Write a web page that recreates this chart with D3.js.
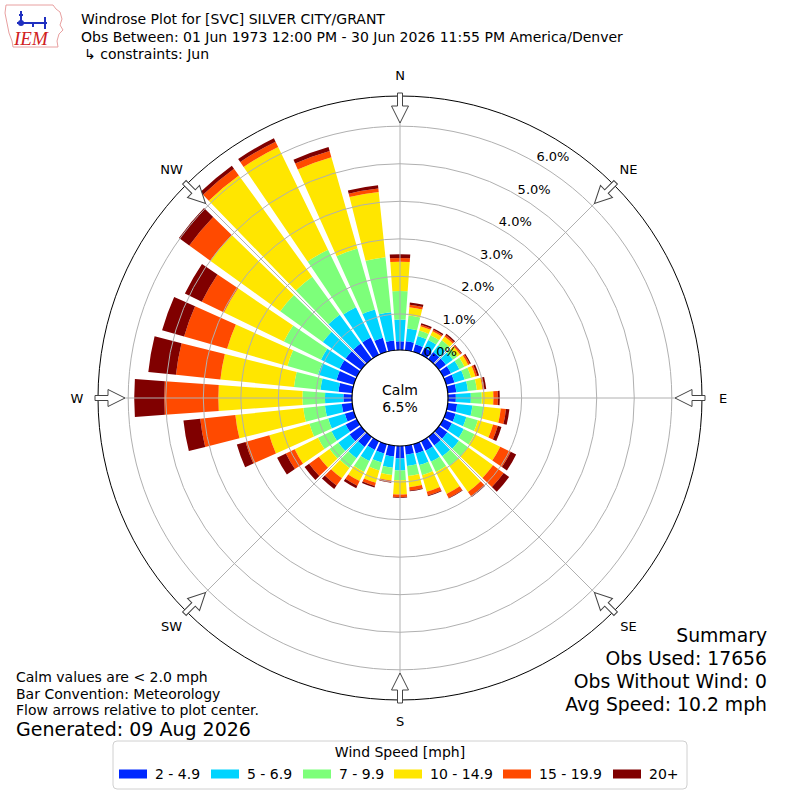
<!DOCTYPE html>
<html>
<head>
<meta charset="utf-8">
<script src="https://cdn.jsdelivr.net/npm/d3@7"></script>
<style>
  body { margin: 0; background: #fff; }
  text { font-family: "DejaVu Sans", sans-serif; fill: #000; }
</style>
</head>
<body>
<div id="chart"></div>
<script>
// wind directions (deg, meteorological) and speed bins
const directions = [0, 10, 20, 30, 40, 50, 60, 70, 80, 90, 100, 110, 120, 130, 140, 150, 160, 170,
  180, 190, 200, 210, 220, 230, 240, 250, 260, 270, 280, 290, 300, 310, 320, 330, 340, 350];
const speedBins = ["2 - 4.9", "5 - 6.9", "7 - 9.9", "10 - 14.9", "15 - 19.9", "20+"];

// frequency (%) of each speed bin per direction
const speed2to5 = [0.27, 0.28, 0.25, 0.25, 0.27, 0.27, 0.27, 0.27, 0.27, 0.25, 0.29, 0.30, 0.30, 0.32, 0.32, 0.32, 0.30, 0.28,
  0.37, 0.33, 0.30, 0.30, 0.37, 0.42, 0.37, 0.29, 0.32, 0.27, 0.41, 0.52, 0.55, 0.55, 0.55, 0.55, 0.43, 0.30];
const speed5to7 = [0.58, 0.34, 0.23, 0.23, 0.23, 0.23, 0.25, 0.28, 0.31, 0.40, 0.41, 0.30, 0.35, 0.38, 0.36, 0.33, 0.32, 0.30,
  0.32, 0.30, 0.25, 0.33, 0.37, 0.37, 0.42, 0.46, 0.45, 0.49, 0.48, 0.51, 0.55, 0.75, 0.95, 0.90, 0.78, 0.76];
const speed7to10 = [0.76, 0.35, 0.15, 0.14, 0.16, 0.14, 0.15, 0.18, 0.24, 0.29, 0.31, 0.32, 0.32, 0.30, 0.32, 0.30, 0.28, 0.27,
  0.26, 0.19, 0.22, 0.32, 0.32, 0.29, 0.40, 0.52, 0.58, 0.60, 0.71, 0.85, 1.10, 1.40, 1.25, 1.70, 1.69, 1.47];
const speed10to15 = [0.78, 0.22, 0.12, 0.12, 0.12, 0.10, 0.11, 0.12, 0.15, 0.31, 0.45, 0.42, 0.76, 0.82, 0.85, 0.65, 0.46, 0.30,
  0.38, 0.15, 0.34, 0.27, 0.34, 0.35, 0.69, 1.11, 1.82, 2.24, 1.97, 1.67, 1.77, 2.30, 3.33, 3.04, 2.53, 1.75];
const speed15to20 = [0.10, 0.07, 0.04, 0.04, 0.05, 0.04, 0.05, 0.05, 0.05, 0.12, 0.14, 0.13, 0.31, 0.35, 0.14, 0.12, 0.10, 0.09,
  0.07, 0.04, 0.09, 0.14, 0.24, 0.32, 0.26, 0.66, 0.94, 1.44, 1.19, 1.19, 0.66, 0.69, 0.22, 0.16, 0.17, 0.09];
const speed20plus = [0.10, 0.06, 0.04, 0.04, 0.04, 0.02, 0.03, 0.05, 0.05, 0.05, 0.09, 0.10, 0.16, 0.18, 0.03, 0.02, 0.02, 0.02,
  0.02, 0.02, 0.04, 0.07, 0.11, 0.15, 0.26, 0.24, 0.45, 0.80, 0.74, 0.61, 0.50, 0.34, 0.10, 0.10, 0.11, 0.09];

const radialTicks = [0, 1, 2, 3, 4, 5, 6];
const compassLabels = ["N", "NE", "E", "SE", "S", "SW", "W", "NW"];
const compassAngles = [0, 45, 90, 135, 180, 225, 270, 315];
const calmPct = 6.5;

const titleLines = [
  "Windrose Plot for [SVC] SILVER CITY/GRANT",
  "Obs Between: 01 Jun 1973 12:00 PM - 30 Jun 2026 11:55 PM America/Denver",
  "\u21b3 constraints: Jun",
];
const noteLines = ["Calm values are < 2.0 mph", "Bar Convention: Meteorology", "Flow arrows relative to plot center."];
const summaryLines = ["Summary", "Obs Used: 17656", "Obs Without Wind: 0", "Avg Speed: 10.2 mph"];

const binColors = ["#0028ff", "#00d4ff", "#7dff7a", "#ffe600", "#ff4a00", "#800000"];

function drawWindrose(id) {
  const w = 800;
  const h = 800;
  const cx = 400;
  const cy = 398;
  const outerR = 302;

  const svg = d3.select(`#${id}`).append("svg").attr("width", w).attr("height", h);

  // build the stacked table from the bin arrays
  const series = [speed2to5, speed5to7, speed7to10, speed10to15, speed15to20, speed20plus];
  const table = directions.map((dir, i) => {
    const row = { dir: dir };
    speedBins.forEach((b, j) => (row[b] = series[j][i]));
    return row;
  });
  const stacked = d3.stack().keys(speedBins)(table);

  // radial scale, 0% starts at the edge of the calm circle
  const rScale = d3.scaleLinear().domain([0, 6]).range([46.5, 271.8]);
  const color = d3.scaleOrdinal().domain(speedBins).range(binColors);
  const rad = (deg) => (deg * Math.PI) / 180;
  const halfWidth = 4.1;

  const g = svg.append("g").attr("transform", `translate(${cx},${cy})`);

  const arc = d3
    .arc()
    .innerRadius((d) => rScale(d[0]))
    .outerRadius((d) => rScale(d[1]))
    .startAngle((d) => rad(d.data.dir - halfWidth))
    .endAngle((d) => rad(d.data.dir + halfWidth));

  // stacked bars
  g.selectAll(".layer")
    .data(stacked)
    .enter()
    .append("g")
    .attr("class", "layer")
    .attr("fill", (d) => color(d.key))
    .selectAll("path")
    .data((d) => d)
    .enter()
    .append("path")
    .attr("d", arc);

  // grid rings and spokes drawn over the bars
  g.selectAll(".ring")
    .data(radialTicks)
    .enter()
    .append("circle")
    .attr("r", (d) => rScale(d))
    .attr("fill", "none")
    .attr("stroke", "#b0b0b0")
    .attr("stroke-width", 1);

  g.selectAll(".spoke")
    .data(compassAngles)
    .enter()
    .append("line")
    .attr("x1", 0)
    .attr("y1", 0)
    .attr("x2", (d) => outerR * Math.sin(rad(d)))
    .attr("y2", (d) => -outerR * Math.cos(rad(d)))
    .attr("stroke", "#b0b0b0")
    .attr("stroke-width", 1);

  // outer frame
  g.append("circle").attr("r", outerR).attr("fill", "none").attr("stroke", "#000").attr("stroke-width", 1);

  // calm circle
  g.append("circle").attr("r", 48).attr("fill", "#fff").attr("stroke", "#000").attr("stroke-width", 1.2);
  g.append("text").attr("text-anchor", "middle").attr("y", -8).attr("dominant-baseline", "central")
    .style("font-size", "14px").text("Calm");
  g.append("text").attr("text-anchor", "middle").attr("y", 9).attr("dominant-baseline", "central")
    .style("font-size", "14px").text(`${calmPct.toFixed(1)}%`);

  // radial tick labels along 30 deg
  g.selectAll(".rlabel")
    .data(radialTicks)
    .enter()
    .append("text")
    .attr("x", (d) => rScale(d) * Math.sin(rad(30)) + 17)
    .attr("y", (d) => -rScale(d) * Math.cos(rad(30)) - 6)
    .attr("text-anchor", "middle")
    .attr("dominant-baseline", "central")
    .style("font-size", "13px")
    .text((d) => `${d.toFixed(1)}%`);

  // hollow flow arrows pointing to the center
  const arrowPts = [[-2.5, 0], [2.5, 0], [2.5, 13], [8.5, 13], [0, 30], [-8.5, 13], [-2.5, 13]];
  g.selectAll(".arrow")
    .data(compassAngles)
    .enter()
    .append("polygon")
    .attr("points", arrowPts.map((p) => p.join(",")).join(" "))
    .attr("transform", (d) => `rotate(${d}) translate(0,${-outerR - 3})`)
    .attr("fill", "#fff")
    .attr("stroke", "#444")
    .attr("stroke-width", 1);

  // compass labels
  g.selectAll(".clabel")
    .data(compassLabels)
    .enter()
    .append("text")
    .attr("x", (d, i) => 323 * Math.sin(rad(compassAngles[i])))
    .attr("y", (d, i) => -323 * Math.cos(rad(compassAngles[i])))
    .attr("text-anchor", "middle")
    .attr("dominant-baseline", "central")
    .style("font-size", "13px")
    .text((d) => d);

  // title block
  svg.selectAll(".title")
    .data(titleLines)
    .enter()
    .append("text")
    .attr("x", (d, i) => (i === 2 ? 84 : 81))
    .attr("y", (d, i) => 19 + i * 17.5)
    .attr("dominant-baseline", "central")
    .style("font-size", "14px")
    .text((d) => d);

  // IEM logo (rough)
  const logo = svg.append("g").attr("transform", "translate(3,3)");
  logo.append("path")
    .attr("d", "M3,2 L50,2 L53,6 L57,9 L59,16 L57,22 L60,27 L56,31 L54,38 L55,44 L10,44 L9,38 L6,30 L4,20 L2,10 Z")
    .attr("fill", "none").attr("stroke", "#e8a0a0").attr("stroke-width", 1);
  logo.append("path")
    .attr("d", "M14,20 L44,20 M42,14 L42,26 M30,20 L30,24 M18,8 L18,20 M20,12 L16,12")
    .attr("stroke", "#2030c0").attr("stroke-width", 2).attr("fill", "none");
  logo.append("circle").attr("cx", 18).attr("cy", 20).attr("r", 3).attr("fill", "#2030c0");
  logo.append("text").attr("x", 11).attr("y", 42)
    .style("font-family", "'Liberation Serif', serif").style("font-style", "italic")
    .style("font-size", "19px").style("fill", "#d02020").text("IEM");

  // notes bottom left
  svg.selectAll(".note")
    .data(noteLines)
    .enter()
    .append("text")
    .attr("x", 16)
    .attr("y", (d, i) => 677 + i * 16.5)
    .attr("dominant-baseline", "central")
    .style("font-size", "14px")
    .text((d) => d);
  svg.append("text").attr("x", 16).attr("y", 729).attr("dominant-baseline", "central")
    .style("font-size", "19px").text("Generated: 09 Aug 2026");

  // summary bottom right
  svg.selectAll(".summary")
    .data(summaryLines)
    .enter()
    .append("text")
    .attr("x", 767)
    .attr("y", (d, i) => 635 + i * 23.3)
    .attr("text-anchor", "end")
    .attr("dominant-baseline", "central")
    .style("font-size", "18.8px")
    .text((d) => d);

  // legend
  const legend = svg.append("g");
  legend.append("rect").attr("x", 113).attr("y", 741).attr("width", 574).attr("height", 48)
    .attr("rx", 4).attr("fill", "#fff").attr("stroke", "#d0d0d0");
  legend.append("text").attr("x", 400).attr("y", 752).attr("text-anchor", "middle")
    .attr("dominant-baseline", "central").style("font-size", "14px").text("Wind Speed [mph]");
  const patchX = [119, 211, 303, 394, 503, 613];
  const items = legend.selectAll(".item")
    .data(speedBins)
    .enter()
    .append("g")
    .attr("transform", (d, i) => `translate(${patchX[i]},774)`);
  items.append("rect").attr("x", 0).attr("y", -4.5).attr("width", 28).attr("height", 9)
    .attr("fill", (d) => color(d));
  items.append("text").attr("x", 36).attr("y", 0).attr("dominant-baseline", "central")
    .style("font-size", "14px").text((d) => d);
}

document.addEventListener("DOMContentLoaded", function () {
  drawWindrose("chart");
});
</script>
</body>
</html>
